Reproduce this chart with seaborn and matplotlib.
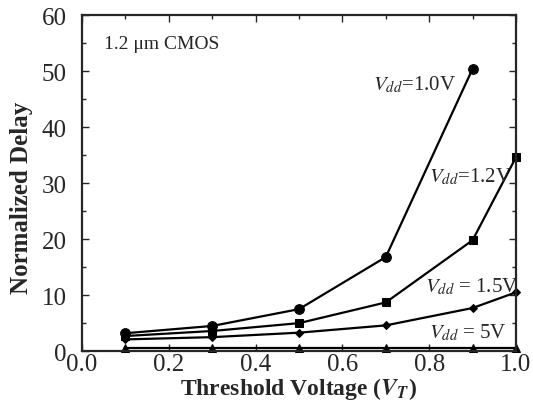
import matplotlib
matplotlib.use("Agg")
import matplotlib.pyplot as plt
import seaborn as sns
import pandas as pd
from matplotlib.ticker import MultipleLocator

# threshold voltage points
vt_10 = [0.1, 0.3, 0.5, 0.7, 0.9]
vt = [0.1, 0.3, 0.5, 0.7, 0.9, 1.0]

delay_vdd10 = [3.2, 4.5, 7.5, 16.8, 50.4]
delay_vdd12 = [2.7, 3.6, 5.0, 8.7, 19.8, 34.6]
delay_vdd15 = [2.1, 2.5, 3.3, 4.6, 7.7, 10.5]
delay_vdd5 = [0.5, 0.5, 0.5, 0.5, 0.5, 0.5]

labels = ["$V_{dd}$=1.0V", "$V_{dd}$=1.2V", "$V_{dd}$ = 1.5V", "$V_{dd}$ = 5V"]

sns.set_style("ticks")
plt.rcParams["font.family"] = ["Liberation Serif", "DejaVu Serif"]
plt.rcParams["mathtext.fontset"] = "stix"

fig, ax = plt.subplots(figsize=(5.33, 4.02), dpi=100)

series = [
    (vt_10, delay_vdd10, "o", 7),
    (vt, delay_vdd12, "s", 5.5),
    (vt, delay_vdd15, "D", 4),
    (vt, delay_vdd5, "^", 6),
]
for xs, ys, mk, ms in series:
    df = pd.DataFrame({"vt": xs, "delay": ys})
    sns.lineplot(data=df, x="vt", y="delay", ax=ax, color="black",
                 marker=mk, markersize=ms, markeredgecolor="black",
                 linewidth=1.6, clip_on=False)

ax.text(0.67, 47.7, labels[0], fontsize=15, va="center")
ax.text(0.80, 31.3, labels[1], fontsize=15, va="center")
ax.text(0.79, 11.6, labels[2], fontsize=15, va="center")
ax.text(0.80, 3.4, labels[3], fontsize=15, va="center")
ax.text(0.05, 55, "1.2 \u03bcm CMOS", fontsize=14, va="center")

ax.set_xlim(0, 1.0)
ax.set_ylim(0, 60)
ax.xaxis.set_major_locator(MultipleLocator(0.2))
ax.xaxis.set_minor_locator(MultipleLocator(0.1))
ax.yaxis.set_major_locator(MultipleLocator(10))
ax.yaxis.set_minor_locator(MultipleLocator(5))
ax.tick_params(which="both", direction="in", top=True, right=True, labelsize=18)
ax.tick_params(axis="x", pad=1)
ax.tick_params(axis="y", pad=11)
ax.tick_params(which="major", length=5, width=1)
ax.tick_params(which="minor", length=3, width=1)
for s in ax.spines.values():
    s.set_linewidth(1.6)

ax.set_xlabel("Threshold Voltage ($\\mathbfit{V_T}$)", fontsize=17, fontweight="bold", labelpad=0)
ax.set_ylabel("Normalized Delay", fontsize=18, fontweight="bold")
ax.yaxis.set_label_coords(-0.112, 0.46)

fig.subplots_adjust(left=0.154, right=0.968, top=0.96, bottom=0.124)
fig.savefig("out.png", dpi=100)
